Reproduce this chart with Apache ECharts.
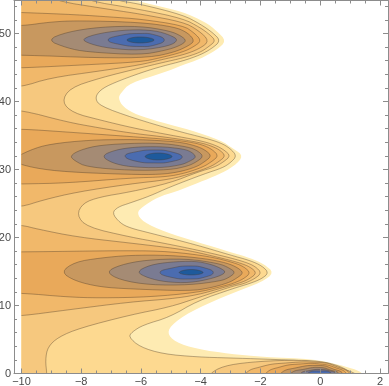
<!DOCTYPE html>
<html>
<head>
<meta charset="utf-8">
<style>html,body{margin:0;padding:0;background:#fff}#chart{width:389px;height:386px}</style>
<script src="https://cdn.jsdelivr.net/npm/echarts@6/dist/echarts.min.js"></script>
</head>
<body>
<div id="chart"></div>
<script>
// contour outlines, [x, y] in data units, outer level first
var band0 = [[-14,60],[-6.6,56.5],[-6.26,54.93],[-5.70,54.34],[-4.59,53.16],[-3.85,51.69],[-3.46,50.37],[-3.14,48.9],[-3.46,47.57],[-4.02,46.25],[-4.59,45.37],[-5.26,44.19],[-6.37,42.72],[-6.67,41.25],[-6.76,40.51],[-6.60,39.19],[-6.13,38.01],[-5.36,36.99],[-4.36,35.81],[-3.35,34.34],[-2.89,33.01],[-2.57,31.99],[-2.87,30.51],[-3.43,29.19],[-4.02,28.16],[-4.86,26.69],[-5.43,25.96],[-5.96,24.49],[-6.14,23.60],[-5.93,22.28],[-5.19,20.81],[-4.12,19.34],[-2.91,17.72],[-2.35,16.99],[-1.88,16.10],[-1.54,14.78],[-1.95,13.46],[-2.91,11.84],[-4.12,9.63],[-4.92,7.43],[-5.13,5.96],[-4.86,4.63],[-4.12,3.60],[-3.02,2.87],[-1.91,2.43],[-0.23,2.13],[0.67,1.25],[1.24,0.51],[1.44,-0.07],[1.5,-1.5],[-14,-8]];
var band1 = [[-14,60],[-7.1,56.5],[-6.93,54.93],[-6.03,54.34],[-4.59,52.72],[-4.02,51.40],[-3.58,50.07],[-3.33,48.9],[-3.65,47.72],[-4.02,46.84],[-4.59,45.96],[-5.26,45.22],[-5.93,44.34],[-6.93,42.72],[-7.37,41.69],[-7.54,40.51],[-7.37,39.34],[-6.26,37.57],[-4.79,35.66],[-3.85,34.63],[-3.32,33.90],[-3.01,33.09],[-2.79,31.99],[-3.01,30.96],[-3.28,30.22],[-3.89,29.34],[-5.03,27.43],[-5.70,26.10],[-6.37,25.07],[-6.77,24.49],[-6.97,23.60],[-6.70,22.13],[-6.37,21.40],[-5.70,20.66],[-4.12,18.88],[-3.02,17.43],[-2.35,16.62],[-1.94,15.81],[-1.72,14.78],[-1.97,13.90],[-2.35,13.24],[-2.91,12.5],[-4.12,10.66],[-5.03,8.31],[-5.93,7.13],[-6.30,6.10],[-6.41,5.37],[-6.03,3.90],[-5.26,2.87],[-4.12,2.43],[-3.02,2.28],[-1.91,2.13],[-0.23,1.84],[0.57,0.96],[1.27,-0.07],[1.35,-1.5],[-14,-8]];
var band2 = [[-14,60],[-8.1,56.5],[-7.94,54.93],[-6.03,53.55],[-4.59,52.2],[-4.02,50.88],[-3.68,49.78],[-3.50,48.9],[-3.75,48.01],[-4.02,47.21],[-4.59,46.40],[-5.26,45.74],[-6.03,44.93],[-7.37,43.46],[-8.38,41.99],[-8.65,39.93],[-8.27,38.31],[-7.37,37.28],[-6.26,36.10],[-5.03,35.07],[-4.02,34.26],[-3.52,33.6],[-3.21,32.87],[-3.00,31.99],[-3.24,31.10],[-3.52,30.37],[-4.09,29.63],[-5.03,28.01],[-6.37,26.69],[-7.37,25.96],[-7.94,25.07],[-8.15,23.31],[-7.81,21.54],[-6.37,20.07],[-5.26,19.19],[-4.12,18.16],[-3.18,17.21],[-2.51,16.40],[-2.17,15.74],[-1.96,14.78],[-2.20,13.90],[-2.58,13.16],[-2.91,12.87],[-4.12,11.10],[-5.03,9.78],[-6.37,8.60],[-8.04,6.69],[-8.76,5.37],[-9.12,3.90],[-9.2,1.99],[-9.15,-0.07],[-9.15,-1.5],[-14,-8]];
var band2Low = [[-3.8,-1.5],[-3.72,-0.07],[-3.25,1.10],[-2.35,1.69],[-1.01,1.99],[0,1.84],[0.67,1.10],[1.11,-0.07],[1.15,-1.5]];

var band3Top = [[-11,57],[-9.2,56.5],[-9.05,54.93],[-6.93,53.46],[-6.03,52.87],[-4.59,51.69],[-4.09,50.51],[-3.70,48.9],[-4.05,47.72],[-4.59,46.84],[-5.36,46.10],[-6.03,45.37],[-7.37,44.49],[-9.05,43.46],[-10,42.13],[-11,41.9]];
var band3Mid = [[-11,38.9],[-10,38.75],[-8.48,36.98],[-7.37,36.10],[-6.37,35.37],[-5.03,34.69],[-4.02,33.96],[-3.69,33.53],[-3.38,32.94],[-3.16,31.99],[-3.41,31.10],[-3.69,30.37],[-4.25,29.49],[-5.03,28.53],[-6.37,27.87],[-8.14,26.69],[-9.28,25.51],[-10,24.49],[-11,24.3]];
var band3Low = [[-11,22.0],[-10,21.84],[-9.48,21.25],[-8.14,20.07],[-6.37,19.19],[-4.69,18.31],[-4.02,17.72],[-3.18,16.84],[-2.68,16.25],[-2.34,15.66],[-2.12,14.78],[-2.37,13.90],[-2.68,13.31],[-3.18,12.72],[-4.12,11.54],[-5.03,10.96],[-6.37,10.51],[-8.48,9.34],[-10,8.46],[-11,8.3]];
var band3Base = [[-2.55,-1.5],[-2.51,-0.07],[-2.01,0.96],[-1.17,1.54],[0,1.62],[0.50,1.10],[1.01,-0.07],[1.05,-1.5]];

var band4Top = [[-11,53.2],[-10,53.09],[-8.14,52.76],[-7.04,52.43],[-6.03,52.13],[-4.59,51.18],[-4.21,50.07],[-3.97,48.9],[-4.25,48.01],[-4.59,47.28],[-5.36,46.40],[-6.03,45.81],[-7.94,45.37],[-10,44.93],[-11,44.9]];
var band4Mid = [[-11,35.9],[-10,35.96],[-8.48,35.51],[-6.37,34.85],[-5.03,34.41],[-4.36,34.04],[-3.92,33.6],[-3.61,32.94],[-3.40,31.99],[-3.65,31.10],[-3.92,30.37],[-4.49,29.49],[-5.16,28.90],[-6.37,28.75],[-8.48,28.01],[-10,27.87],[-11,27.8]];
var band4Low = [[-11,17.9],[-10,17.87],[-6.37,18.09],[-5.03,17.94],[-3.69,17.21],[-2.85,16.25],[-2.54,15.66],[-2.33,14.78],[-2.57,13.90],[-2.91,13.24],[-3.35,12.72],[-4.12,11.91],[-5.70,11.25],[-7.37,11.10],[-8.48,11.25],[-10,11.84],[-11,11.8]];
var band4Base = [[-1.88,-1.5],[-1.84,-0.07],[-1.34,0.96],[-0.67,1.40],[0,1.40],[0.50,0.88],[0.90,-0.07],[0.94,-1.5]];

var band5Top = [[-11,51.2],[-10,51.10],[-9.05,51.69],[-8.14,51.9],[-6.03,51.65],[-4.86,50.96],[-4.42,50.07],[-4.20,48.9],[-4.42,48.16],[-4.86,47.28],[-5.70,46.46],[-7.37,46.40],[-10,46.84],[-11,46.8]];
var band5Mid = [[-10.4,31.3],[-9.72,32.87],[-9.05,33.75],[-7.71,34.34],[-6.37,34.41],[-5.70,34.34],[-4.69,34.04],[-4.15,33.46],[-3.85,32.87],[-3.63,31.99],[-3.88,31.10],[-4.15,30.37],[-4.72,29.63],[-5.36,29.26],[-6.37,29.26],[-8.48,29.63],[-9.61,30.22]];
var band5Low = [[-8.68,14.93],[-8.21,16.40],[-7.37,16.99],[-6.37,17.40],[-5.03,17.40],[-3.85,16.91],[-3.12,16.25],[-2.77,15.59],[-2.56,14.78],[-2.81,13.97],[-3.08,13.31],[-3.69,12.57],[-4.36,12.13],[-6.37,12.43],[-7.37,12.72],[-8.21,13.60]];
var band5Base = [[-1.38,-1.5],[-1.34,-0.07],[-0.84,0.81],[0,1.18],[0.44,0.66],[0.77,-0.07],[0.8,-1.5]];

var band6Top = [[-9.15,49.04],[-8.48,50.22],[-7.37,50.96],[-6.03,51.10],[-5.03,50.37],[-4.65,49.63],[-4.47,48.9],[-4.72,48.16],[-5.19,47.5],[-6.03,46.84],[-7.81,47.28],[-8.48,47.87]];
var band6Mid = [[-8.38,31.99],[-8.04,32.87],[-7.37,33.6],[-6.03,33.9],[-5.19,33.82],[-4.42,33.31],[-4.11,32.79],[-3.90,31.91],[-4.15,31.10],[-4.42,30.51],[-5.03,29.93],[-6.37,29.85],[-7.81,30.37],[-8.21,31.25]];
var band6Low = [[-7.17,14.93],[-6.70,15.96],[-5.86,16.69],[-4.52,16.91],[-3.38,16.18],[-3.04,15.51],[-2.83,14.85],[-3.08,14.04],[-3.35,13.60],[-4.36,13.01],[-5.70,13.01],[-6.70,13.75]];
var band6Base = [[-1.05,-1.5],[-1.01,-0.07],[-0.50,0.66],[0,0.88],[0.34,0.51],[0.64,-0.07],[0.66,-1.5]];

var band7Top = [[-8.0,49.19],[-7.37,50.07],[-6.37,50.59],[-5.53,50.44],[-5.03,49.78],[-4.74,49.04],[-5.05,48.16],[-6.03,47.5],[-7.04,47.79],[-7.71,48.46]];
var band7Mid = [[-7.33,31.99],[-6.87,32.87],[-6.20,33.31],[-5.36,33.38],[-4.69,33.09],[-4.35,32.72],[-4.13,31.84],[-4.38,31.18],[-4.66,30.66],[-5.36,30.22],[-6.37,30.37],[-6.97,30.96]];
var band7Low = [[-6.16,14.93],[-5.70,15.96],[-5.03,16.40],[-4.19,16.54],[-3.69,16.10],[-3.34,15.51],[-3.13,14.85],[-3.54,14.04],[-4.36,13.31],[-5.19,13.46],[-5.76,14.04]];
var band7Base = [[-0.7,-1.5],[-0.67,-0.07],[-0.34,0.44],[0,0.59],[0.34,0.37],[0.54,-0.07],[0.56,-1.5]];

var band8Top = [[-7.10,49.04],[-6.70,49.71],[-6.03,50.0],[-5.53,49.78],[-5.22,49.04],[-5.53,48.31],[-6.03,48.09],[-6.70,48.38]];
var band8Mid = [[-6.53,31.99],[-6.20,32.57],[-5.53,32.87],[-4.96,32.57],[-4.62,31.84],[-4.96,31.18],[-5.53,30.96],[-6.20,31.25]];
var band8Low = [[-5.36,14.85],[-4.96,15.51],[-4.36,15.81],[-3.85,15.51],[-3.58,14.85],[-3.85,14.19],[-4.36,13.90],[-4.96,14.12]];
var band8Base = [[-0.46,-1.5],[-0.44,-0.07],[0,0.37],[0.40,-0.07],[0.42,-1.5]];

var band9Top = [[-6.47,49.04],[-6.03,49.49],[-5.56,49.04],[-6.03,48.60]];
var band9Mid = [[-5.86,31.91],[-5.43,32.43],[-4.96,31.91],[-5.43,31.40]];
var band9Low = [[-4.72,14.85],[-4.32,15.29],[-3.92,14.85],[-4.32,14.49]];

var bandColors = ['#feebb2','#fdd990','#f6c87e','#f1b86a','#e9a95a','#c8985f','#a58b74','#7a7b92','#4b6cb0','#1e5a9c'];

var xMajor = [-10,-8,-6,-4,-2,0,2];
var xMinor = [-9.5,-9,-8.5,-7.5,-7,-6.5,-5.5,-5,-4.5,-3.5,-3,-2.5,-1.5,-1,-0.5,0.5,1,1.5];
var yMajor = [0,10,20,30,40,50];
var yMinor = [2,4,6,8,12,14,16,18,22,24,26,28,32,34,36,38,42,44,46,48,52,54];

var bands = [
  [0,band0],[1,band1],[2,band2],[2,band2Low],
  [3,band3Top],[3,band3Mid],[3,band3Low],[3,band3Base],
  [4,band4Top],[4,band4Mid],[4,band4Low],[4,band4Base],
  [5,band5Top],[5,band5Mid],[5,band5Low],[5,band5Base],
  [6,band6Top],[6,band6Mid],[6,band6Low],[6,band6Base],
  [7,band7Top],[7,band7Mid],[7,band7Low],[7,band7Base],
  [8,band8Top],[8,band8Mid],[8,band8Low],[8,band8Base],
  [9,band9Top],[9,band9Mid],[9,band9Low]
];

var xMin = -10.25, xMax = 2.27, yMin = 0, yMax = 54.85;
var frameColor = '#8c8c8c';
var labelFont = {color:'#4a4a4a', fontSize:11, fontFamily:'Liberation Sans'};

function xAxisOf(position, values, len, labels){
  return {
    type:'value', position:position, min:xMin, max:xMax, z:5,
    splitLine:{show:false},
    axisLine:{show:len>3, onZero:false, lineStyle:{color:frameColor, width:1}},
    axisTick:{show:true, inside:true, length:len, customValues:values, lineStyle:{color:frameColor, width:1}},
    axisLabel: labels ? Object.assign({show:true, margin:3, customValues:xMajor, hideOverlap:false,
      formatter:function(v){return String(v).replace('-','\u2212')}}, labelFont) : {show:false}
  };
}
function yAxisOf(position, values, len, labels){
  return {
    type:'value', position:position, min:yMin, max:yMax, z:5,
    splitLine:{show:false},
    axisLine:{show:len>3, onZero:false, lineStyle:{color:frameColor, width:1}},
    axisTick:{show:true, inside:true, length:len, customValues:values, lineStyle:{color:frameColor, width:1}},
    axisLabel: labels ? Object.assign({show:true, margin:3, customValues:yMajor, hideOverlap:false}, labelFont) : {show:false}
  };
}

// corner cutting so the hand-read outlines don't wobble
function rounded(pts){
  var out = [];
  for(var i=0;i<pts.length;i++){
    var a = pts[i], b = pts[(i+1)%pts.length];
    out.push([a[0]*0.75+b[0]*0.25, a[1]*0.75+b[1]*0.25]);
    out.push([a[0]*0.25+b[0]*0.75, a[1]*0.25+b[1]*0.75]);
  }
  return out;
}

var chart = echarts.init(document.getElementById('chart'), null, {renderer:'canvas'});
chart.setOption({
  animation:false,
  backgroundColor:'#fff',
  grid:{left:14, right:1, top:0.5, bottom:12.5, containLabel:false, outerBoundsMode:'none'},
  xAxis:[
    xAxisOf('bottom', xMajor, 5, true),
    xAxisOf('bottom', xMinor, 3, false),
    xAxisOf('top', xMajor, 5, false),
    xAxisOf('top', xMinor, 3, false)
  ],
  yAxis:[
    yAxisOf('left', yMajor, 5, true),
    yAxisOf('left', yMinor, 3, false),
    yAxisOf('right', yMajor, 5, false),
    yAxisOf('right', yMinor, 3, false)
  ],
  series:[{
    type:'custom',
    coordinateSystem:'cartesian2d',
    xAxisIndex:0, yAxisIndex:0,
    clip:false,
    silent:true,
    data:bands.map(function(b,i){return [i]}),
    renderItem:function(params, api){
      var b = bands[params.dataIndex];
      var corner0 = api.coord([-10,yMax]);
      var corner1 = api.coord([xMax,0]);
      var pts = b[1].map(function(p){return api.coord(p)});
      if(pts.length>8) pts = rounded(rounded(pts));
      return {
        type:'polygon',
        shape:{points:pts, smooth:pts.length>8 ? 0 : 0.5},
        style:{
          fill:bandColors[b[0]],
          stroke:b[0]===0 ? null : 'rgba(70,55,40,0.55)',
          lineWidth:0.7
        },
        clipPath:{type:'rect', shape:{x:corner0[0], y:corner0[1], width:corner1[0]-corner0[0], height:corner1[1]-corner0[1]}}
      };
    }
  }]
});
</script>
</body>
</html>
